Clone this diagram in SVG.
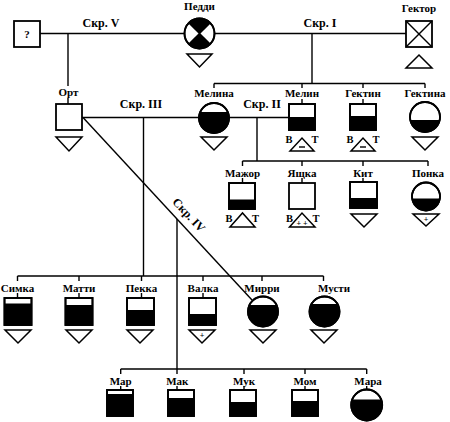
<svg xmlns="http://www.w3.org/2000/svg" width="450" height="422" viewBox="0 0 450 422">
<style>
.ln{stroke:#000;stroke-width:1.4;fill:none}
.sh{fill:none;stroke:#000;stroke-width:1.8}
.wh{fill:#fff;stroke:#000;stroke-width:1.8}
.bk{fill:#000}
.tri{fill:#fff;stroke:#000;stroke-width:1.5;stroke-linejoin:miter}
text{font-family:"Liberation Serif","Times New Roman",serif;font-weight:bold;fill:#000;text-anchor:middle}
.nm{font-size:11px}
.sk{font-size:12px}
.bt{font-size:10.5px}
.pl{font-size:8px}
</style>
<rect width="450" height="422" fill="#fff"/>
<g id="connectors">
<!-- Skr V / Skr I -->
<line class="ln" x1="40" y1="33.5" x2="184.5" y2="33.5"/>
<line class="ln" x1="214.5" y1="33.5" x2="406" y2="33.5"/>
<line class="ln" x1="68" y1="33.5" x2="68" y2="86"/>
<line class="ln" x1="68" y1="98" x2="68" y2="104"/>
<line class="ln" x1="312" y1="33.5" x2="312" y2="83.5"/>
<line class="ln" x1="214" y1="83.5" x2="425" y2="83.5"/>
<line class="ln" x1="214" y1="83.5" x2="214" y2="88"/>
<line class="ln" x1="302" y1="83.5" x2="302" y2="88"/>
<line class="ln" x1="363" y1="83.5" x2="363" y2="88"/>
<line class="ln" x1="425" y1="83.5" x2="425" y2="88"/>
<line class="ln" x1="302" y1="99" x2="302" y2="104"/>
<line class="ln" x1="363" y1="99" x2="363" y2="104"/>
<!-- Skr III / Skr II -->
<line class="ln" x1="82" y1="117.5" x2="199" y2="117.5"/>
<line class="ln" x1="229" y1="117.5" x2="289" y2="117.5"/>
<line class="ln" x1="257" y1="117.5" x2="257" y2="161"/>
<line class="ln" x1="242.5" y1="161" x2="428" y2="161"/>
<line class="ln" x1="242.5" y1="161" x2="242.5" y2="166"/>
<line class="ln" x1="302" y1="161" x2="302" y2="166"/>
<line class="ln" x1="363" y1="161" x2="363" y2="166"/>
<line class="ln" x1="428" y1="161" x2="428" y2="166"/>
<line class="ln" x1="242.5" y1="178" x2="242.5" y2="183"/>
<line class="ln" x1="302" y1="178" x2="302" y2="183"/>
<line class="ln" x1="363" y1="178" x2="363" y2="182"/>
<!-- Skr IV diagonal -->
<line class="ln" x1="83" y1="117.5" x2="252" y2="300"/>
<line class="ln" x1="143.5" y1="117.5" x2="143.5" y2="276"/>
<line class="ln" x1="17.5" y1="276" x2="323.5" y2="276"/>
<line class="ln" x1="17.5" y1="276" x2="17.5" y2="281"/>
<line class="ln" x1="79" y1="276" x2="79" y2="281"/>
<line class="ln" x1="141.5" y1="276" x2="141.5" y2="281"/>
<line class="ln" x1="203" y1="276" x2="203" y2="281"/>
<line class="ln" x1="262" y1="276" x2="262" y2="281"/>
<line class="ln" x1="323.5" y1="276" x2="323.5" y2="281"/>
<line class="ln" x1="17.5" y1="293" x2="17.5" y2="298"/>
<line class="ln" x1="79" y1="293" x2="79" y2="298"/>
<line class="ln" x1="141.5" y1="293" x2="141.5" y2="298"/>
<line class="ln" x1="203" y1="293" x2="203" y2="298"/>
<line class="ln" x1="177" y1="219" x2="177" y2="369"/>
<line class="ln" x1="120.7" y1="369" x2="366.7" y2="369"/>
<line class="ln" x1="120.7" y1="369" x2="120.7" y2="374"/>
<line class="ln" x1="177" y1="369" x2="177" y2="374"/>
<line class="ln" x1="244" y1="369" x2="244" y2="374"/>
<line class="ln" x1="305" y1="369" x2="305" y2="374"/>
<line class="ln" x1="366.7" y1="369" x2="366.7" y2="374"/>
<line class="ln" x1="120.7" y1="386" x2="120.7" y2="390"/>
<line class="ln" x1="177" y1="386" x2="177" y2="390"/>
<line class="ln" x1="244" y1="386" x2="244" y2="390"/>
<line class="ln" x1="305" y1="386" x2="305" y2="390"/>
<line class="ln" x1="366.7" y1="386" x2="366.7" y2="389.5"/>
<text class="sk" x="101" y="27">Скр. V</text>
<text class="sk" x="320" y="27">Скр. I</text>
<text class="sk" x="141" y="108">Скр. III</text>
<text class="sk" x="262" y="108">Скр. II</text>
<text class="sk" transform="translate(186,217.7) rotate(47)">Скр. IV</text>
</g>
<g id="unknown">
<rect class="wh" x="14" y="21" width="26" height="26"/>
<text class="nm" x="27" y="38">?</text>
</g>
<g id="peddi">
<text class="nm" x="199.5" y="10">Педди</text>
<circle class="wh" cx="199.5" cy="33.5" r="15"/>
<path class="bk" d="M199.5,33.5 L188.89,22.89 A15,15 0 0 1 210.11,22.89 Z"/>
<path class="bk" d="M199.5,33.5 L210.11,44.11 A15,15 0 0 1 188.89,44.11 Z"/>
<line class="ln" x1="188.89" y1="22.89" x2="210.11" y2="44.11"/>
<line class="ln" x1="210.11" y1="22.89" x2="188.89" y2="44.11"/>
<circle class="sh" cx="199.5" cy="33.5" r="15"/>
<polygon class="tri" points="187,54 212,54 199.5,67"/>
</g>
<g id="gektor">
<text class="nm" x="419" y="12">Гектор</text>
<rect class="wh" x="406" y="21" width="26" height="26"/>
<line class="ln" x1="406" y1="21" x2="432" y2="47"/>
<line class="ln" x1="432" y1="21" x2="406" y2="47"/>
<polygon class="tri" points="406,68 432,68 419,55"/>
</g>
<g id="ort">
<text class="nm" x="68.5" y="96">Орт</text>
<rect class="wh" x="56" y="104" width="26" height="26"/>
<polygon class="tri" points="56,137 82,137 69,151"/>
</g>
<g id="melina">
<text class="nm" x="214" y="97">Мелина</text>
<circle class="wh" cx="214" cy="118" r="15"/>
<path class="bk" d="M200.25,112 A15,15 0 1 0 227.75,112 Z"/>
<circle class="sh" cx="214" cy="118" r="15"/>
<polygon class="tri" points="201,137 227,137 214,150"/>
</g>
<g id="melin">
<text class="nm" x="302" y="97">Мелин</text>
<rect class="wh" x="289" y="104" width="26" height="26"/>
<rect class="bk" x="289" y="117" width="26" height="13"/>
<rect class="sh" x="289" y="104" width="26" height="26"/>
<polygon class="tri" points="290,151 314,151 302,138"/>
<line class="ln" x1="299" y1="147" x2="305" y2="147"/>
<text class="bt" x="289" y="143">В</text>
<text class="bt" x="315" y="143">Т</text>
</g>
<g id="gektin">
<text class="nm" x="363" y="97">Гектин</text>
<rect class="wh" x="350" y="104" width="26" height="26"/>
<rect class="bk" x="350" y="116" width="26" height="14"/>
<rect class="sh" x="350" y="104" width="26" height="26"/>
<polygon class="tri" points="351,151 375,151 363,138"/>
<line class="ln" x1="360" y1="147" x2="366" y2="147"/>
<text class="bt" x="350" y="143">В</text>
<text class="bt" x="376" y="143">Т</text>
</g>
<g id="gektina">
<text class="nm" x="425" y="97">Гектина</text>
<circle class="wh" cx="425" cy="117" r="15"/>
<path class="bk" d="M410.3,120 A15,15 0 0 0 439.7,120 Z"/>
<circle class="sh" cx="425" cy="117" r="15"/>
<polygon class="tri" points="412,137 438,137 425,150"/>
</g>
<g id="mazhor">
<text class="nm" x="242.5" y="176.5">Мажор</text>
<rect class="wh" x="229" y="183" width="26" height="26"/>
<rect class="bk" x="229" y="199.5" width="26" height="9.5"/>
<rect class="sh" x="229" y="183" width="26" height="26"/>
<polygon class="tri" points="230,227 255,227 242.5,213"/>
<text class="bt" x="229" y="222">В</text>
<text class="bt" x="255.5" y="222">Т</text>
</g>
<g id="yashchka">
<text class="nm" x="302" y="176.5">Ящка</text>
<rect class="wh" x="289" y="183" width="26" height="26"/>
<polygon class="tri" points="289.5,227 315,227 302,213"/>
<text class="pl" x="302" y="226">+ +</text>
<text class="bt" x="289.5" y="222">В</text>
<text class="bt" x="316" y="222">Т</text>
</g>
<g id="kit">
<text class="nm" x="363" y="176.5">Кит</text>
<rect class="wh" x="350" y="182" width="27" height="26"/>
<rect class="bk" x="350" y="198" width="27" height="10"/>
<rect class="sh" x="350" y="182" width="27" height="26"/>
<polygon class="tri" points="351,214 377,214 364,227"/>
</g>
<g id="ponka">
<text class="nm" x="428" y="176.5">Понка</text>
<circle class="wh" cx="426" cy="196.5" r="14"/>
<path class="bk" d="M412.14,198.5 A14,14 0 0 0 439.86,198.5 Z"/>
<circle class="sh" cx="426" cy="196.5" r="14"/>
<polygon class="tri" points="413,214 439,214 426,226"/>
<text class="pl" x="426" y="222">+</text>
</g>
<g id="simka">
<text class="nm" x="17.5" y="291.5">Симка</text>
<rect class="wh" x="4.5" y="298" width="27" height="27"/>
<rect class="bk" x="4.5" y="303.5" width="27" height="21.5"/>
<rect class="sh" x="4.5" y="298" width="27" height="27"/>
<polygon class="tri" points="5,330 31,330 18,343"/>
</g>
<g id="matti">
<text class="nm" x="79" y="291.5">Матти</text>
<rect class="wh" x="65.5" y="298" width="27" height="27"/>
<rect class="bk" x="65.5" y="305" width="27" height="20"/>
<rect class="sh" x="65.5" y="298" width="27" height="27"/>
<polygon class="tri" points="66,330 92,330 79,343"/>
</g>
<g id="pekka">
<text class="nm" x="141.5" y="291.5">Пекка</text>
<rect class="wh" x="127" y="298" width="27" height="27"/>
<rect class="bk" x="127" y="310" width="27" height="15"/>
<rect class="sh" x="127" y="298" width="27" height="27"/>
<polygon class="tri" points="127,330 153,330 140,343"/>
</g>
<g id="valka">
<text class="nm" x="203" y="291.5">Валка</text>
<rect class="wh" x="189" y="298" width="27" height="27"/>
<rect class="bk" x="189" y="314" width="27" height="11"/>
<rect class="sh" x="189" y="298" width="27" height="27"/>
<polygon class="tri" points="189,330 215,330 202,343"/>
<text class="pl" x="202" y="338">+</text>
</g>
<g id="mirri">
<text class="nm" x="262" y="291.5">Мирри</text>
<circle class="wh" cx="263" cy="311.5" r="15"/>
<path class="bk" d="M249.48,305 A15,15 0 1 0 276.52,305 Z"/>
<circle class="sh" cx="263" cy="311.5" r="15"/>
<polygon class="tri" points="250,330 276,330 263,343"/>
</g>
<g id="musti">
<text class="nm" x="334" y="291.5">Мусти</text>
<circle class="wh" cx="324.5" cy="311.5" r="15"/>
<path class="bk" d="M311.51,304 A15,15 0 1 0 337.49,304 Z"/>
<circle class="sh" cx="324.5" cy="311.5" r="15"/>
<polygon class="tri" points="311,330 337,330 324,343"/>
</g>
<g id="mar">
<text class="nm" x="120.7" y="385">Мар</text>
<rect class="wh" x="107" y="390" width="26" height="26"/>
<rect class="bk" x="107" y="394" width="26" height="22"/>
<rect class="sh" x="107" y="390" width="26" height="26"/>
</g>
<g id="mak">
<text class="nm" x="177.3" y="385">Мак</text>
<rect class="wh" x="168" y="390" width="26" height="26"/>
<rect class="bk" x="168" y="398" width="26" height="18"/>
<rect class="sh" x="168" y="390" width="26" height="26"/>
</g>
<g id="muk">
<text class="nm" x="244" y="385">Мук</text>
<rect class="wh" x="230" y="390" width="26" height="26"/>
<rect class="bk" x="230" y="402" width="26" height="14"/>
<rect class="sh" x="230" y="390" width="26" height="26"/>
</g>
<g id="mom">
<text class="nm" x="305" y="385">Мом</text>
<rect class="wh" x="292" y="390" width="26" height="26"/>
<rect class="bk" x="292" y="401" width="26" height="15"/>
<rect class="sh" x="292" y="390" width="26" height="26"/>
</g>
<g id="mara">
<text class="nm" x="368" y="385">Мара</text>
<circle class="wh" cx="366.7" cy="405" r="15.5"/>
<path class="bk" d="M352.21,399.5 A15.5,15.5 0 1 0 381.19,399.5 Z"/>
<circle class="sh" cx="366.7" cy="405" r="15.5"/>
</g>
</svg>
